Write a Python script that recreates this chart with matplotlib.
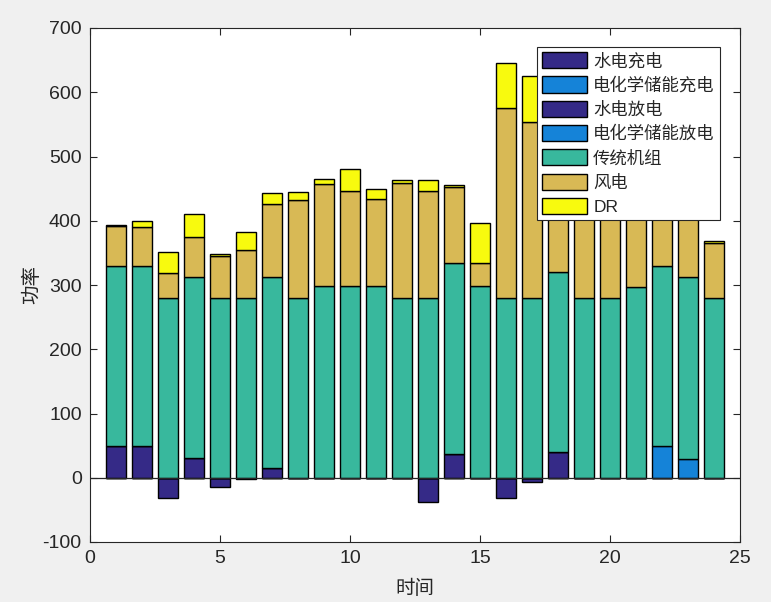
import numpy as np
import matplotlib.pyplot as plt

hours = np.arange(1, 25)

# 各时段功率
hydro_charge = [0, 0, -31, 0, -14, -2, 0, 0, 0, 0, 0, 0,
                -37, 0, 0, -32, -7, 0, 0, 0, 0, 0, 0, 0]
echem_charge = [0] * 24
hydro_discharge = [50, 50, 0, 30, 0, 0, 15, 0, 0, 0, 0, 0,
                   0, 37, 0, 0, 0, 40, 0, 0, 0, 0, 0, 0]
echem_discharge = [0] * 21 + [50, 29, 0]
thermal = [280, 280, 280, 282, 280, 280, 297, 280, 298, 298, 298, 280,
           280, 297, 298, 280, 280, 280, 280, 280, 297, 280, 283, 280]
wind = [62, 61, 38, 62, 65, 75, 114, 153, 159, 149, 136, 179,
        167, 119, 37, 295, 273, 160, 190, 175, 150, 140, 125, 86]
dr = [2, 9, 33, 36, 4, 28, 17, 12, 8, 33, 16, 4,
      16, 2, 61, 70, 72, 10, 12, 8, 6, 5, 4, 3]

labels = ['水电充电', '电化学储能充电', '水电放电', '电化学储能放电', '传统机组', '风电', 'DR']
series = [hydro_charge, echem_charge, hydro_discharge, echem_discharge, thermal, wind, dr]
colors = ['#352a87', '#1583d8', '#352a87', '#1583d8', '#38b89d', '#d8b955', '#f8fa0e']

plt.rcParams['font.family'] = ['Liberation Sans', 'Noto Sans CJK SC']
plt.rcParams['axes.unicode_minus'] = False

fig = plt.figure(figsize=(7.71, 6.02), dpi=100, facecolor='#f0f0f0')
ax = fig.add_axes([90 / 771, 60 / 602, 650 / 771, 514 / 602])

pos_bottom = np.zeros(24)
neg_bottom = np.zeros(24)
for vals, lab, col in zip(series, labels, colors):
    v = np.array(vals, dtype=float)
    bottom = np.where(v < 0, neg_bottom, pos_bottom)
    ax.bar(hours, v, width=0.8, bottom=bottom, color=col, edgecolor='black',
           linewidth=1.0, label=lab)
    pos_bottom = pos_bottom + np.where(v >= 0, v, 0)
    neg_bottom = neg_bottom + np.where(v < 0, v, 0)

ax.axhline(0, color='#262626', linewidth=0.9, zorder=3)

ax.set_xlim(0, 25)
ax.set_ylim(-100, 700)
ax.set_xticks(range(0, 26, 5))
ax.set_yticks(range(-100, 701, 100))
ax.tick_params(direction='in', top=True, right=True, length=5, width=0.8,
               labelsize=14, colors='#262626', pad=6)
for s in ax.spines.values():
    s.set_color('#262626')
    s.set_linewidth(0.8)

ax.set_xlabel('时间', fontsize=14, family=['Noto Sans CJK SC'], color='#262626', labelpad=8)
ax.set_ylabel('功率', fontsize=14, family=['Noto Sans CJK SC'], color='#262626', labelpad=0)

leg = ax.legend(loc='upper right', bbox_to_anchor=(720 / 771, (602 - 47) / 602),
                bbox_transform=fig.transFigure, fontsize=12.5, frameon=True, fancybox=False,
                framealpha=1, edgecolor='#262626', handlelength=2.6, handleheight=1.05,
                labelspacing=0.42, handletextpad=0.35, borderpad=0.3, borderaxespad=0)
leg.get_frame().set_linewidth(0.8)
for t in leg.get_texts():
    t.set_color('#262626')

fig.savefig('out.png', dpi=100, facecolor=fig.get_facecolor())
